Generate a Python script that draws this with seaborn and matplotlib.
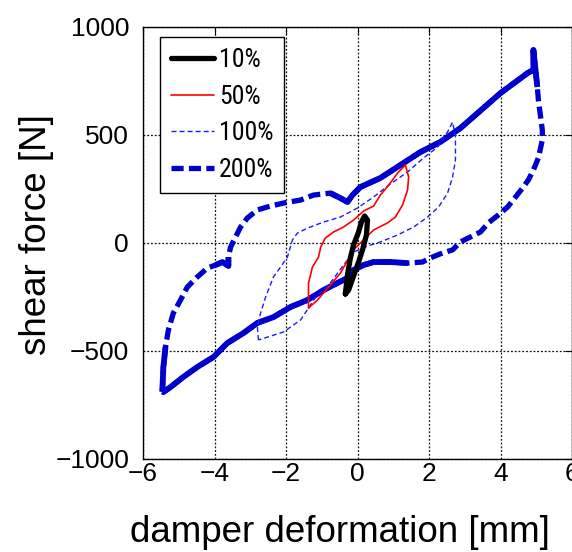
import matplotlib
matplotlib.use("Agg")
import matplotlib.pyplot as plt
from matplotlib import font_manager
import pandas as pd
import seaborn as sns

# Hysteresis loops of the damper: deformation [mm] vs. shear force [N]
disp_10 = [-0.34, -0.28, -0.20, -0.11, 0.03, 0.11, 0.20, 0.28, 0.25, 0.14,
           0.03, -0.11, -0.25, -0.34]
force_10 = [-236, -148, -69, -9, 51, 97, 125, 106, 37, -32,
            -88, -153, -218, -236]

disp_50 = [-1.37, -1.37, -1.26, -1.09, -1.03, -0.90, -0.67, -0.39, -0.11, 0.17,
           0.45, 0.64, 0.92, 1.12, 1.34, 1.43, 1.40, 1.26, 1.06, 0.84,
           0.45, 0.08, -0.11, -0.48, -0.84, -1.12, -1.37]
force_50 = [-301, -185, -111, -65, -19, 23, 51, 74, 106, 148,
            171, 222, 278, 324, 361, 306, 245, 176, 120, 93,
            60, 0, -32, -140, -210, -264, -301]

disp_100 = [-2.77, -2.80, -2.71, -2.57, -2.35, -2.15, -1.96, -1.82, -1.68, -1.40,
            -0.95, -0.48, 0.00, 0.45, 0.92, 1.40, 1.85, 2.24, 2.52, 2.66,
            2.74, 2.74, 2.66, 2.52, 2.27, 1.96, 1.57, 1.12, 0.64, 0.28,
            -0.11, -0.39, -0.76, -1.17, -1.59, -2.07, -2.43, -2.77]
force_100 = [-449, -389, -324, -250, -157, -111, -65, 14, 46, 69,
             97, 120, 162, 213, 273, 329, 394, 444, 514, 560,
             491, 384, 306, 231, 167, 120, 74, 37, 5, -14,
             -42, -102, -185, -250, -356, -412, -431, -449]

disp_200 = [-5.46, -5.43, -5.37, -5.29, -5.15, -4.95, -4.76, -4.48, -4.20, -3.97,
            -3.78, -3.61, -3.61, -3.55, -3.41, -3.27, -3.08, -2.80, -2.52, -2.07,
            -1.59, -1.23, -0.76, -0.48, -0.28, -0.14, 0.08, 0.64, 1.20, 1.76,
            2.32, 2.88, 4.00, 4.76, 4.92, 4.92, 5.03, 5.06, 5.17, 5.17,
            5.06, 4.92, 4.78, 4.62, 4.42, 4.20, 3.94, 3.66, 3.44, 3.16,
            2.88, 2.66, 2.38, 2.04, 1.82, 1.40, 0.92, 0.45, 0.17, -0.11,
            -0.28, -0.56, -0.95, -1.40, -1.87, -2.35, -2.80, -3.19, -3.64, -4.03,
            -4.48, -4.87, -5.23, -5.43, -5.46]
force_200 = [-688, -574, -481, -403, -324, -264, -204, -157, -116, -102,
             -88, -106, -65, -19, 28, 74, 116, 153, 167, 185,
             199, 222, 231, 208, 190, 222, 259, 301, 361, 421,
             468, 532, 694, 787, 801, 894, 722, 662, 523, 477,
             394, 338, 292, 255, 213, 167, 130, 93, 51, 28,
             5, -32, -46, -69, -88, -93, -88, -88, -102, -125,
             -162, -185, -218, -264, -296, -343, -370, -417, -463, -528,
             -574, -620, -667, -690, -688]

series_labels = ["10%", "50%", "100%", "200%"]
x_ticks = [-6, -4, -2, 0, 2, 4, 6]
y_ticks = [-1000, -500, 0, 500, 1000]

# parts of the 200 % loop where the dense, noisy record reads as a solid band
solid_200 = [slice(0, 3), slice(9, 13), slice(22, 37), slice(55, 75)]

sns.set_style("white")
plt.rcParams["font.family"] = ["Liberation Sans", "DejaVu Sans"]
plt.rcParams["axes.unicode_minus"] = True
plt.rcParams["text.color"] = "black"
plt.rcParams["axes.labelcolor"] = "black"

# narrow face for the legend when one is available
installed = {f.name for f in font_manager.fontManager.ttflist}
legend_family, legend_size = ["Liberation Sans"], 15.5
for narrow in ["Liberation Sans Narrow", "Roboto Condensed"]:
    if narrow in installed:
        legend_family, legend_size = [narrow, "Liberation Sans"], 18.5
        break

fig = plt.figure(figsize=(5.72, 5.52), dpi=100)
ax = fig.add_axes([143 / 572, 93 / 552, 429 / 572, 432 / 552])

blue_thick = "#0000cc"
blue_thin = "#1a1aff"

df200 = pd.DataFrame({"d": disp_200, "f": force_200})
sns.lineplot(data=df200, x="d", y="f", sort=False, estimator=None, ax=ax,
             color=blue_thick, lw=3.8, linestyle=(0, (2.3, 1.0)),
             label=series_labels[3], zorder=3)
for seg in solid_200:
    part = df200.iloc[seg]
    sns.lineplot(data=part, x="d", y="f", sort=False, estimator=None, ax=ax,
                 color=blue_thick, lw=4.2, solid_capstyle="butt",
                 legend=False, zorder=3)

sns.lineplot(x=disp_100, y=force_100, sort=False, estimator=None, ax=ax,
             color=blue_thin, lw=1.0, linestyle=(0, (3.6, 2.2)),
             label=series_labels[2], zorder=4)
sns.lineplot(x=disp_50, y=force_50, sort=False, estimator=None, ax=ax,
             color="#ff0000", lw=1.2, label=series_labels[1], zorder=5)
sns.lineplot(x=disp_10, y=force_10, sort=False, estimator=None, ax=ax,
             color="black", lw=3.8, label=series_labels[0], zorder=6)

ax.set_xlim(-6, 6)
ax.set_ylim(-1000, 1000)
ax.set_xticks(x_ticks)
ax.set_yticks(y_ticks)
ax.grid(True, color="#111111", linestyle=(0, (1.5, 1.5)), lw=0.9, zorder=0)
ax.set_axisbelow(True)
for side in ["left", "right", "top", "bottom"]:
    ax.spines[side].set_visible(True)
    ax.spines[side].set_color("black")
    ax.spines[side].set_linewidth(1.0)
ax.tick_params(axis="both", direction="in", length=5, width=0.8,
               top=True, right=True, labelsize=19, colors="black")
ax.tick_params(axis="y", pad=10)
ax.tick_params(axis="x", pad=2)

ax.set_xlabel("damper deformation [mm]", fontsize=26.5, color="black")
ax.xaxis.set_label_coords((340 - 143) / 429, -(542 - 459) / 432)
ax.xaxis.label.set_va("baseline")
ax.set_ylabel("shear force [N]", fontsize=26.5, color="black")
ax.yaxis.set_label_coords(-(143 - 46) / 429, (459 - 235) / 432)
ax.yaxis.label.set_va("baseline")

handles, labels = ax.get_legend_handles_labels()
hmap = dict(zip(labels, handles))
leg = ax.legend([hmap[k] for k in series_labels], series_labels, loc="upper left",
                bbox_to_anchor=(17 / 429, 1 - 10 / 432),
                prop={"family": legend_family, "size": legend_size},
                frameon=True, fancybox=False, framealpha=1, edgecolor="black",
                handlelength=43 / (legend_size * 100 / 72),
                handletextpad=0.2, labelspacing=0.5,
                borderpad=0.42, borderaxespad=0)
leg.get_frame().set_linewidth(1.0)

fig.savefig("out.png", dpi=100)
